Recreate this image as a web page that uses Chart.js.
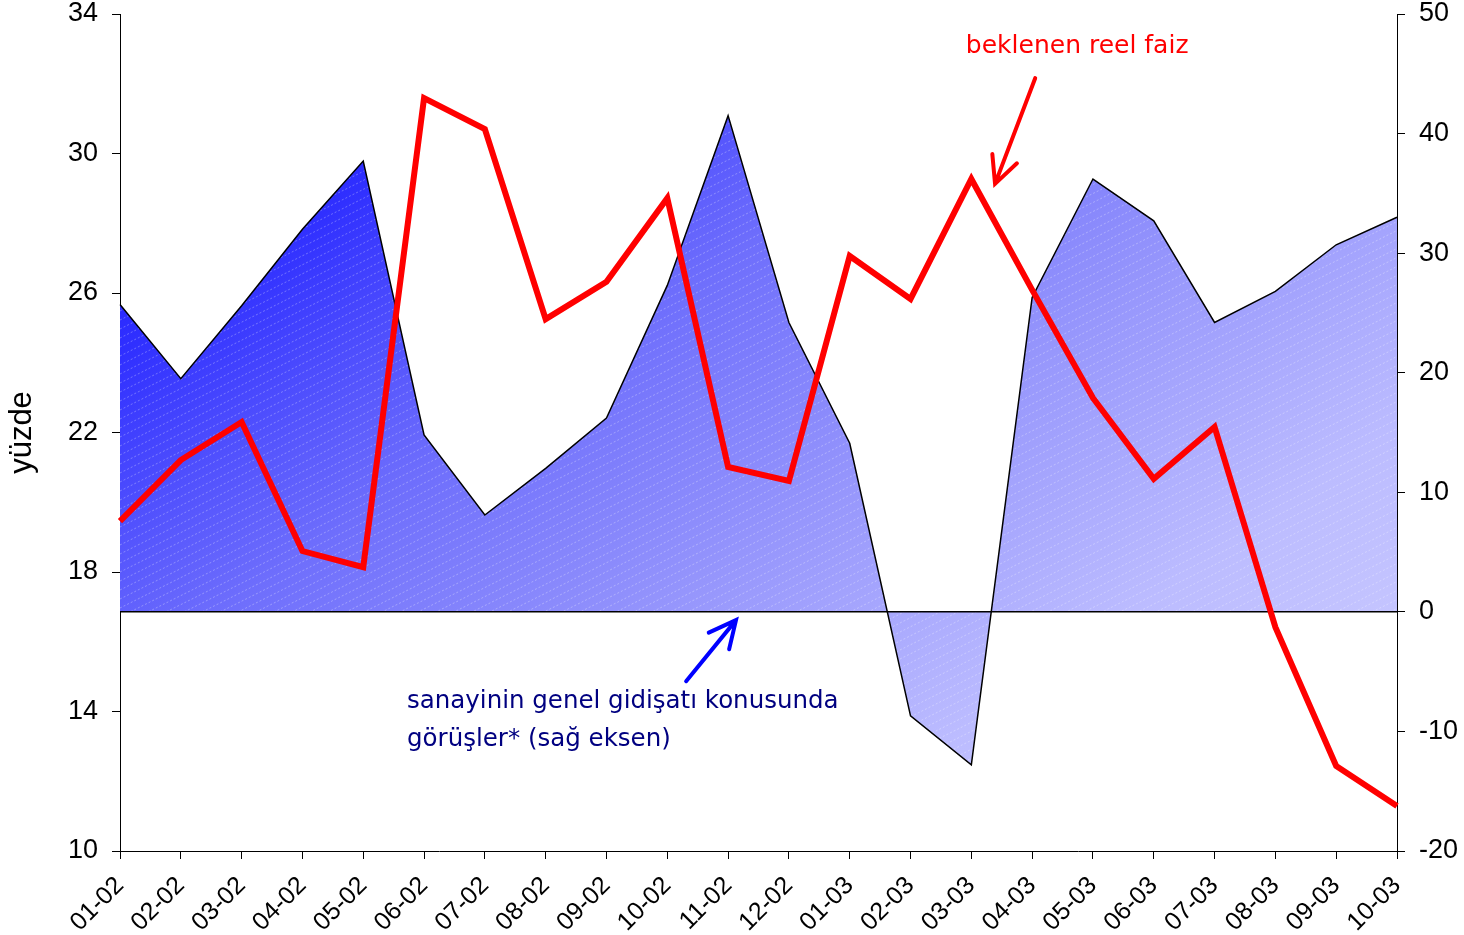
<!DOCTYPE html>
<html>
<head>
<meta charset="utf-8">
<script src="https://cdn.jsdelivr.net/npm/chart.js@4.4.1/dist/chart.umd.min.js"></script>
<style>
  html, body { margin: 0; padding: 0; background: #ffffff; }
  #wrap { width: 1464px; height: 935px; }
</style>
</head>
<body>
<div id="wrap"><canvas id="c" width="1464" height="935"></canvas></div>
<script>
// Months (mm-yy)
const categories = ['01-02','02-02','03-02','04-02','05-02','06-02','07-02','08-02','09-02','10-02','11-02','12-02',
                    '01-03','02-03','03-03','04-03','05-03','06-03','07-03','08-03','09-03','10-03'];

// Expected real interest rate, % (left axis)
const beklenenReelFaiz = [19.46, 21.21, 22.30, 18.60, 18.14, 31.59, 30.70, 25.25, 26.32, 28.72, 21.01,
                          20.61, 27.06, 25.83, 29.27, 26.09, 22.99, 20.67, 22.16, 16.42, 12.44, 11.29];

// Views on the general course of industry (right axis)
const sanayiGorusleri = [25.7, 19.5, 25.6, 32.0, 37.7, 14.8, 8.1, 12.0, 16.2, 27.3, 41.5,
                         24.2, 14.1, -8.7, -12.8, 26.3, 36.2, 32.7, 24.2, 26.8, 30.7, 33.0];

// Axis ranges and steps
const leftAxis  = { min: 10, max: 34, step: 4 };
const rightAxis = { min: -20, max: 50, step: 10 };

// Annotation anchors in data units: [category index, left-axis value]
const redLabel  = { text: 'beklenen reel faiz', at: [13.91, 33.08] };
const redArrow  = { from: [15.05, 32.16], to: [14.39, 29.13] };
const blueLabel = { lines: ['sanayinin genel gidişatı konusunda', 'görüşler* (sağ eksen)'], at: [4.72, 14.27], lineStep: 1.09 };
const blueArrow = { from: [9.31, 14.87], to: [10.13, 16.62] };

const TICK_FONT = 'Liberation Sans, Arial, sans-serif';
const NOTE_FONT = 'DejaVu Sans, Verdana, sans-serif';

// Gradient running from the top-left of the plot towards the lower right,
// with faint dotted hatching on top
let fillCache = null;
function areaFill(context) {
  const chart = context.chart;
  const a = chart.chartArea;
  if (!a) return '#8888f8';
  const key = [a.left, a.top, a.right, a.bottom, chart.width, chart.height].join(',');
  if (fillCache && fillCache.key === key) return fillCache.pattern;

  const w = a.right - a.left, h = a.bottom - a.top;
  const c = document.createElement('canvas');
  c.width = chart.width; c.height = chart.height;
  const g = c.getContext('2d');
  const grad = g.createLinearGradient(a.left, a.top, a.left + 0.545 * w, a.top + 1.193 * h);
  grad.addColorStop(0, '#0a0aff');
  grad.addColorStop(0.23, '#3030ff');
  grad.addColorStop(0.45, '#6e6efc');
  grad.addColorStop(0.66, '#9696fc');
  grad.addColorStop(0.88, '#bcbcff');
  grad.addColorStop(1, '#c4c4ff');
  g.fillStyle = grad;
  g.fillRect(0, 0, c.width, c.height);

  g.strokeStyle = 'rgba(255,255,255,0.30)';
  g.lineWidth = 1;
  g.setLineDash([2, 2]);
  for (let s = a.top; s < a.bottom + w * 0.5 + 10; s += 9) {
    g.beginPath();
    g.moveTo(a.left, s);
    g.lineTo(a.right, s - w * 0.5);
    g.stroke();
  }
  const pattern = chart.ctx.createPattern(c, 'no-repeat');
  fillCache = { key, pattern };
  return pattern;
}

function drawArrow(ctx, x1, y1, x2, y2, color) {
  const ang = Math.atan2(y1 - y2, x1 - x2);
  const len = 30, spread = 26 * Math.PI / 180;
  ctx.save();
  ctx.strokeStyle = color;
  ctx.lineWidth = 4;
  ctx.lineCap = 'round';
  ctx.beginPath();
  ctx.moveTo(x1, y1); ctx.lineTo(x2, y2);
  ctx.moveTo(x2 + len * Math.cos(ang - spread), y2 + len * Math.sin(ang - spread));
  ctx.lineTo(x2, y2);
  ctx.lineTo(x2 + len * Math.cos(ang + spread), y2 + len * Math.sin(ang + spread));
  ctx.stroke();
  ctx.restore();
}

const overlay = {
  id: 'overlay',
  afterDatasetDraw(chart, args) {
    // zero line of the right axis, over the area fill
    if (args.index !== 1) return;
    const yR = chart.scales.yR;
    const y = yR.getPixelForValue(0);
    const ctx = chart.ctx;
    ctx.save();
    ctx.strokeStyle = '#000';
    ctx.lineWidth = 1.5;
    ctx.beginPath();
    ctx.moveTo(chart.chartArea.left, y);
    ctx.lineTo(chart.chartArea.right, y);
    ctx.stroke();
    ctx.restore();
  },
  afterDraw(chart) {
    const ctx = chart.ctx;
    const xs = chart.scales.x, yL = chart.scales.yL;
    const px = p => [xs.getPixelForValue(p[0]), yL.getPixelForValue(p[1])];

    ctx.save();
    ctx.textBaseline = 'middle';
    ctx.textAlign = 'left';

    ctx.font = '25px ' + NOTE_FONT;
    ctx.fillStyle = '#ff0000';
    const rl = px(redLabel.at);
    ctx.fillText(redLabel.text, rl[0], rl[1]);

    ctx.font = '24.5px ' + NOTE_FONT;
    ctx.fillStyle = '#000080';
    blueLabel.lines.forEach((t, i) => {
      const p = px([blueLabel.at[0], blueLabel.at[1] - i * blueLabel.lineStep]);
      ctx.fillText(t, p[0], p[1]);
    });
    ctx.restore();

    const ra = px(redArrow.from), rb = px(redArrow.to);
    drawArrow(ctx, ra[0], ra[1], rb[0], rb[1], '#ff0000');
    const ba = px(blueArrow.from), bb = px(blueArrow.to);
    drawArrow(ctx, ba[0], ba[1], bb[0], bb[1], '#0000ff');
  }
};

// fixed scale boxes so the plot area sits at a known place
const fitVertical = width => s => { s.width = width; s.paddingTop = 0; s.paddingBottom = 0; };

new Chart(document.getElementById('c'), {
  type: 'line',
  data: {
    labels: categories,
    datasets: [
      {
        label: 'beklenen reel faiz',
        data: beklenenReelFaiz,
        yAxisID: 'yL',
        borderColor: '#ff0000',
        borderWidth: 6,
        pointRadius: 0,
        tension: 0,
        fill: false,
        order: 0
      },
      {
        label: 'sanayinin genel gidişatı konusunda görüşler',
        data: sanayiGorusleri,
        yAxisID: 'yR',
        borderColor: '#000000',
        borderWidth: 1.5,
        backgroundColor: areaFill,
        pointRadius: 0,
        tension: 0,
        fill: 'origin',
        order: 1
      }
    ]
  },
  options: {
    responsive: false,
    devicePixelRatio: 1,
    animation: false,
    layout: { padding: { top: 14, left: 0, right: 0, bottom: 0 } },
    plugins: { legend: { display: false }, tooltip: { enabled: false } },
    scales: {
      x: {
        type: 'category',
        offset: false,
        grid: { drawOnChartArea: false, offset: false, color: '#000', tickLength: 8, lineWidth: 1 },
        border: { color: '#000', width: 1 },
        ticks: {
          autoSkip: false, maxRotation: 45, minRotation: 45, padding: 12,
          color: '#000', font: { family: TICK_FONT, size: 25 }
        },
        afterFit: s => { s.height = 84; s.paddingLeft = 0; s.paddingRight = 0; }
      },
      yL: {
        type: 'linear',
        position: 'left',
        min: leftAxis.min, max: leftAxis.max,
        ticks: { stepSize: leftAxis.step, padding: 14, color: '#000', font: { family: TICK_FONT, size: 27 } },
        grid: { drawOnChartArea: false, color: '#000', tickLength: 8, lineWidth: 1 },
        border: { color: '#000', width: 1 },
        title: { display: true, text: 'yüzde', color: '#000', font: { family: TICK_FONT, size: 31 }, padding: { top: 4, bottom: 0 } },
        afterFit: fitVertical(120)
      },
      yR: {
        type: 'linear',
        position: 'right',
        min: rightAxis.min, max: rightAxis.max,
        ticks: { stepSize: rightAxis.step, padding: 14, color: '#000', font: { family: TICK_FONT, size: 27 } },
        grid: { drawOnChartArea: false, color: '#000', tickLength: 8, lineWidth: 1 },
        border: { color: '#000', width: 1 },
        afterFit: fitVertical(67)
      }
    }
  },
  plugins: [overlay]
});
</script>
</body>
</html>
